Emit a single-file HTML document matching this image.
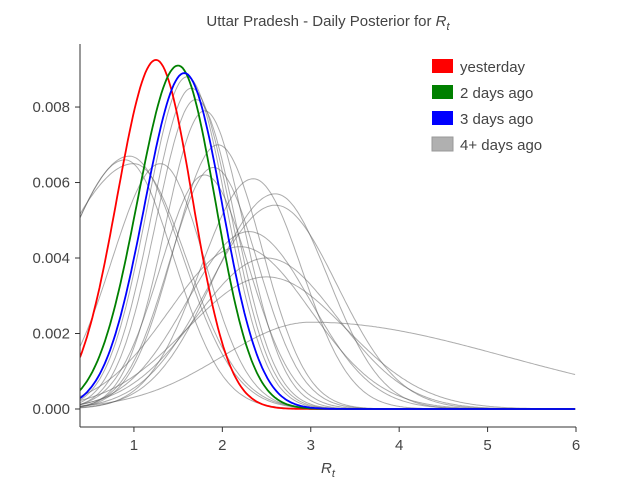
<!DOCTYPE html>
<html><head><meta charset="utf-8"><style>
body{margin:0;background:#fff;}
svg{display:block;font-family:"Liberation Sans",sans-serif;}
</style></head><body>
<svg id="chart" width="640" height="480">
<text x="328" y="26" text-anchor="middle" font-size="15" fill="#444">Uttar Pradesh - Daily Posterior for <tspan font-style="italic">R</tspan><tspan font-style="italic" font-size="11" dy="4">t</tspan></text>
<defs><clipPath id="clip"><rect x="80" y="44" width="496" height="383"/></clipPath></defs>
<g id="gray" clip-path="url(#clip)"></g>
<g id="main" clip-path="url(#clip)"></g>
<line x1="80" y1="44" x2="80" y2="427" stroke="#333"/>
<line x1="80" y1="427" x2="576" y2="427" stroke="#333"/>
<g id="axes"></g>
<text x="328" y="473" text-anchor="middle" font-size="15" fill="#444" font-style="italic">R<tspan font-size="11" dy="4">t</tspan></text>
<g>
<rect x="432" y="59" width="21" height="14" fill="#ff0000"/>
<text x="460" y="72" font-size="15" fill="#444">yesterday</text>
<rect x="432" y="85" width="21" height="14" fill="#008000"/>
<text x="460" y="98" font-size="15" fill="#444">2 days ago</text>
<rect x="432" y="111" width="21" height="14" fill="#0000ff"/>
<text x="460" y="124" font-size="15" fill="#444">3 days ago</text>
<rect x="432" y="137" width="21" height="14" fill="#b0b0b0" stroke="#999"/>
<text x="460" y="150" font-size="15" fill="#444">4+ days ago</text>
</g>
</svg>
<script>
const xTicks=[1,2,3,4,5,6];
const yTicks=[0,0.002,0.004,0.006,0.008];
const yTickLabels=["0.000","0.002","0.004","0.006","0.008"];
// main curves: mode, peak, left width, right width
const mainNames=["yesterday","2-days-ago","3-days-ago"];
const mainColors=["#ff0000","#008000","#0000ff"];
const mainModes=[1.25,1.5,1.57];
const mainPeaks=[0.00925,0.0091,0.0089];
const mainWidthL=[0.44,0.46,0.45];
const mainWidthR=[0.41,0.42,0.43];
// older curves
const grayModes=[0.95,1.0,0.9,1.3,1.6,1.65,1.7,1.8,1.95,1.9,1.8,2.35,2.6,2.6,2.3,2.5,2.5,3.0,2.2];
const grayPeaks=[0.0067,0.0065,0.0066,0.0065,0.0088,0.0085,0.0082,0.0079,0.0070,0.0064,0.0062,0.0061,0.0057,0.0054,0.0047,0.0040,0.0035,0.0023,0.0043];
const grayWidthL=[0.75,0.9,0.7,0.55,0.45,0.45,0.45,0.45,0.5,0.5,0.5,0.6,0.7,0.75,0.7,0.8,0.9,1.0,0.8];
const grayWidthR=[0.6,0.6,0.55,0.5,0.45,0.45,0.45,0.45,0.5,0.5,0.5,0.55,0.6,0.7,0.7,0.8,0.9,2.2,0.8];

const NS="http://www.w3.org/2000/svg";
const X0=0.39,X1=6,PX0=80,PX1=576;
const Y0=-0.000477,Y1=0.00967,PY0=427,PY1=44;
const sx=v=>PX0+(v-X0)/(X1-X0)*(PX1-PX0);
const sy=v=>PY0+(v-Y0)/(Y1-Y0)*(PY1-PY0);
function curve(m,p,l,r){let d="";for(let x=X0;x<=X1+0.001;x+=0.02){const s=x<m?l:r;const y=p*Math.exp(-((x-m)**2)/(2*s*s));d+=(d?"L":"M")+sx(x).toFixed(1)+","+sy(y).toFixed(1);}return d;}
const gray=document.getElementById("gray"),main=document.getElementById("main"),axes=document.getElementById("axes");
grayModes.forEach((m,i)=>{const el=document.createElementNS(NS,"path");
el.setAttribute("d",curve(m,grayPeaks[i],grayWidthL[i],grayWidthR[i]));
el.setAttribute("fill","none");el.setAttribute("stroke","rgba(90,90,90,0.5)");el.setAttribute("stroke-width","1");


gray.appendChild(el);});
mainModes.forEach((m,i)=>{const el=document.createElementNS(NS,"path");
el.setAttribute("d",curve(m,mainPeaks[i],mainWidthL[i],mainWidthR[i]));
el.setAttribute("fill","none");el.setAttribute("stroke",mainColors[i]);el.setAttribute("stroke-width","1.8");


main.appendChild(el);});
xTicks.forEach(v=>{const x=sx(v);
const t=document.createElementNS(NS,"line");t.setAttribute("x1",x);t.setAttribute("x2",x);t.setAttribute("y1",427);t.setAttribute("y2",432);t.setAttribute("stroke","#333");


axes.appendChild(t);
const l=document.createElementNS(NS,"text");l.setAttribute("x",x);l.setAttribute("y",450);l.setAttribute("text-anchor","middle");l.setAttribute("font-size","15");l.setAttribute("fill","#444");l.textContent=v;


axes.appendChild(l);});
yTicks.forEach((v,i)=>{const y=sy(v);
const t=document.createElementNS(NS,"line");t.setAttribute("x1",75);t.setAttribute("x2",80);t.setAttribute("y1",y);t.setAttribute("y2",y);t.setAttribute("stroke","#333");


axes.appendChild(t);
const l=document.createElementNS(NS,"text");l.setAttribute("x",70);l.setAttribute("y",y+5);l.setAttribute("text-anchor","end");l.setAttribute("font-size","15");l.setAttribute("fill","#444");l.textContent=yTickLabels[i];


axes.appendChild(l);});
</script>
</body></html>
